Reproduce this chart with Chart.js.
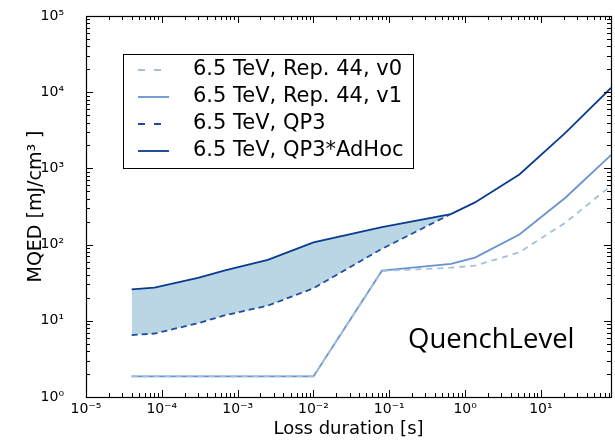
<!DOCTYPE html>
<html>
<head>
<meta charset="utf-8">
<script src="https://cdn.jsdelivr.net/npm/chart.js@4"></script>
<style>
  html, body { margin: 0; padding: 0; background: #fff; }
  #wrap { width: 615px; height: 440px; }
</style>
</head>
<body>
<div id="wrap"><canvas id="chart"></canvas></div>
<script>
// Values (log-log)
const durations = [4e-5, 8e-5, 3e-4, 7e-4, 2.5e-3, 1e-2, 8e-2, 0.65, 1.35, 5.2, 21, 84];
const rep44v0   = [1.86, 1.86, 1.86, 1.86, 1.86, 1.86, 45, 49.8, 52.9, 79, 194, 591];
const rep44v1   = [1.86, 1.86, 1.86, 1.86, 1.86, 1.86, 45.5, 55.7, 67.4, 136, 412, 1494];
const qp3       = [6.5, 6.8, 9.3, 11.9, 15.8, 26.7, 88, 252];
const qp3AdHoc  = [25.9, 27.2, 36.5, 46.4, 63, 107, 170, 252, 358, 834, 2930, 11400];

const seriesNames = ["6.5 TeV, Rep. 44, v0", "6.5 TeV, Rep. 44, v1", "6.5 TeV, QP3", "6.5 TeV, QP3*AdHoc"];
const xTickExps = [-5, -4, -3, -2, -1, 0, 1];
const yTickExps = [0, 1, 2, 3, 4, 5];

const FONT = "'DejaVu Sans', sans-serif";
const sup = { "-": "\u207B", "0": "\u2070", "1": "\u00B9", "2": "\u00B2", "3": "\u00B3",
  "4": "\u2074", "5": "\u2075", "6": "\u2076", "7": "\u2077", "8": "\u2078", "9": "\u2079" };
function pow10Label(v) {
  const e = Math.round(Math.log10(v));
  return "10" + String(e).split("").map(c => sup[c]).join("");
}

function pts(ys) {
  return ys.map((y, i) => ({ x: durations[i], y: y }));
}

// box around plot + inward ticks (major and minor) on all four sides
const frame = {
  id: "frame",
  afterDatasetsDraw(chart) {
    const { ctx, chartArea: a, scales: { x, y } } = chart;
    ctx.save();
    ctx.strokeStyle = "#000";
    ctx.lineWidth = 1;
    ctx.beginPath();
    for (let k = -6; k <= 2; k++) {
      for (let m = 1; m <= 9; m++) {
        const v = m * Math.pow(10, k);
        if (v < x.min || v > x.max) continue;
        const px = Math.round(x.getPixelForValue(v)) + 0.5;
        const len = m === 1 ? 7 : 4;
        ctx.moveTo(px, a.bottom); ctx.lineTo(px, a.bottom - len);
        ctx.moveTo(px, a.top); ctx.lineTo(px, a.top + len);
      }
    }
    for (let k = -1; k <= 6; k++) {
      for (let m = 1; m <= 9; m++) {
        const v = m * Math.pow(10, k);
        if (v < y.min || v > y.max) continue;
        const py = Math.round(y.getPixelForValue(v)) + 0.5;
        const len = m === 1 ? 7 : 4;
        ctx.moveTo(a.left, py); ctx.lineTo(a.left + len, py);
        ctx.moveTo(a.right, py); ctx.lineTo(a.right - len, py);
      }
    }
    ctx.stroke();
    ctx.lineWidth = 1.2;
    ctx.strokeRect(Math.round(a.left) + 0.5, Math.round(a.top) + 0.5,
      Math.round(a.right - a.left), Math.round(a.bottom - a.top));
    ctx.restore();
  }
};

// legend box inside the plot, matplotlib style
const boxLegend = {
  id: "boxLegend",
  afterDraw(chart) {
    const ctx = chart.ctx;
    ctx.save();
    ctx.fillStyle = "#fff";
    ctx.fillRect(123, 54, 290, 114);
    ctx.strokeStyle = "#000";
    ctx.lineWidth = 1;
    ctx.strokeRect(123.5, 54.5, 290, 114);
    ctx.font = "21px " + FONT;
    ctx.textBaseline = "middle";
    chart.data.datasets.forEach((ds, i) => {
      const yy = 70 + i * 27;
      ctx.strokeStyle = ds.borderColor;
      ctx.lineWidth = ds.borderWidth;
      ctx.beginPath();
      if (ds.borderDash && ds.borderDash.length) {
        ctx.setLineDash([7, 9]);
        ctx.moveTo(138, yy); ctx.lineTo(161, yy);
      } else {
        ctx.setLineDash([]);
        ctx.moveTo(138, yy); ctx.lineTo(169, yy);
      }
      ctx.stroke();
      ctx.setLineDash([]);
      ctx.fillStyle = "#000";
      ctx.fillText(ds.label, 193, yy);
    });
    ctx.font = "27.5px 'Open Sans', sans-serif";
    ctx.textBaseline = "alphabetic";
    ctx.fillStyle = "#000";
    ctx.fillText("QuenchLevel", 408, 348);
    ctx.restore();
  }
};

new Chart(document.getElementById("chart"), {
  type: "line",
  data: {
    datasets: [
      { label: seriesNames[0], data: pts(rep44v0), borderColor: "#a3c0dd", borderDash: [6, 5], borderWidth: 1.8, fill: false },
      { label: seriesNames[1], data: pts(rep44v1), borderColor: "#6892d0", borderWidth: 1.8, fill: false },
      { label: seriesNames[2], data: pts(qp3), borderColor: "#1d4e9e", borderDash: [6, 4], borderWidth: 1.8,
        fill: { target: 3 }, backgroundColor: "#bad5e3" },
      { label: seriesNames[3], data: pts(qp3AdHoc), borderColor: "#0a3b8f", borderWidth: 1.8, fill: false }
    ]
  },
  options: {
    responsive: true,
    maintainAspectRatio: false,
    animation: false,
    layout: { padding: { top: 16, right: 4, left: 0, bottom: 0 } },
    elements: { point: { radius: 0 }, line: { tension: 0 } },
    plugins: {
      legend: { display: false },
      tooltip: { enabled: false },
      filler: { drawTime: "beforeDatasetsDraw" }
    },
    scales: {
      x: {
        type: "logarithmic",
        min: 1e-5,
        max: 84,
        border: { display: false },
        grid: { display: false, drawTicks: false },
        afterBuildTicks: s => { s.ticks = xTickExps.map(e => ({ value: Math.pow(10, e) })); },
        afterFit: s => { s.height = 43; },
        ticks: { color: "#000", font: { family: FONT, size: 14 }, padding: 4, maxRotation: 0, autoSkip: false,
          callback: v => pow10Label(v) },
        title: { display: true, text: "Loss duration [s]", color: "#000", font: { family: FONT, size: 18 },
          padding: { top: 0, bottom: 0 } }
      },
      y: {
        type: "logarithmic",
        min: 1,
        max: 1e5,
        border: { display: false },
        grid: { display: false, drawTicks: true, tickLength: 18 },
        afterBuildTicks: s => { s.ticks = yTickExps.map(e => ({ value: Math.pow(10, e) })); },
        afterFit: s => { s.width = 86; },
        ticks: { color: "#000", font: { family: FONT, size: 14 }, padding: 4, autoSkip: false,
          callback: v => pow10Label(v) },
        title: { display: true, text: "MQED [mJ/cm\u00B3 ]", color: "#000", font: { family: FONT, size: 19 },
          padding: { top: 25, bottom: 0 } }
      }
    }
  },
  plugins: [frame, boxLegend]
});
</script>
</body>
</html>
